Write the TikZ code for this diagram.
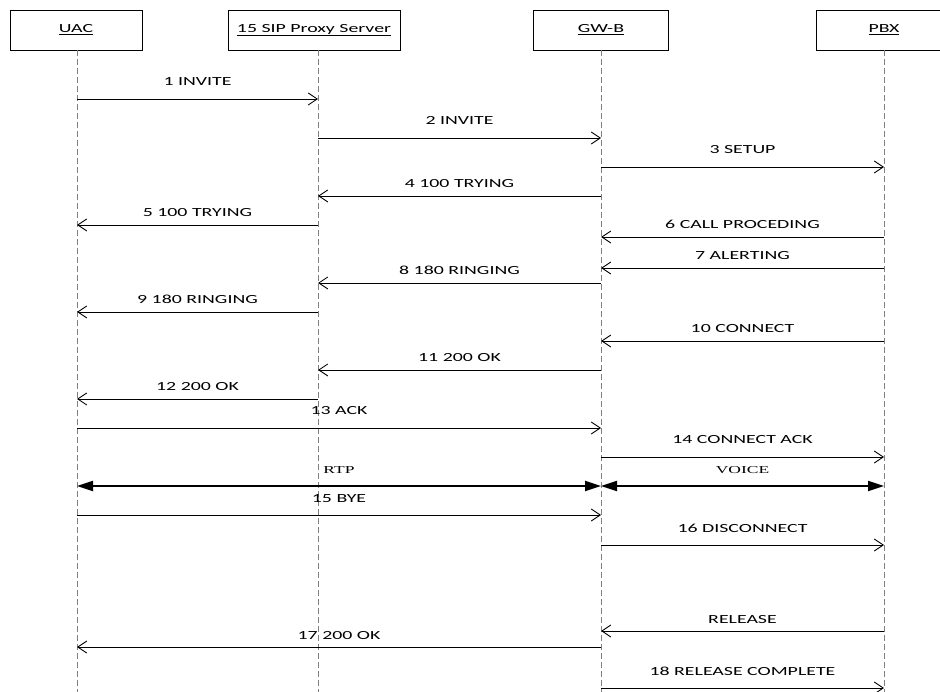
\documentclass[tikz,border=0pt]{standalone}
\usepackage{fontspec}
\setmainfont[FakeStretch=1.6]{Carlito}
\newfontfamily\mediafont[FakeStretch=1.65]{Liberation Serif}
\usetikzlibrary{arrows.meta}

\tikzset{
  party/.style={draw, line width=0.8pt, minimum height=40pt, inner sep=0pt,
    font=\fontsize{12.4}{14}\selectfont},
  life/.style={draw=gray, dash pattern=on 6pt off 3pt, line width=0.8pt},
  msg/.style={draw, line width=0.9pt, -{Straight Barb[length=9pt,width=12pt]}},
  rlbl/.style={anchor=base, yshift=13pt, inner sep=0pt, font=\fontsize{12.4}{14}\selectfont},
  llbl/.style={anchor=base, yshift=8pt, inner sep=0pt, font=\fontsize{12.4}{14}\selectfont},
  media/.style={draw, line width=2.2pt,
    {Triangle[length=16pt,width=10pt]}-{Triangle[length=16pt,width=10pt]}},
  mlbl/.style={anchor=base, yshift=12pt, inner sep=0pt,
    font=\mediafont\fontsize{10.6}{12}\selectfont}
}

\begin{document}
\begin{tikzpicture}[x=1pt,y=-1pt]
  \useasboundingbox (0,0) rectangle (940,692);

  % parties
  \node[party, minimum width=132pt] (uac)   at (76,30)  {\underline{UAC}};
  \node[party, minimum width=172pt] (proxy) at (314,30) {\underline{15 SIP Proxy Server}};
  \node[party, minimum width=135pt] (gw)    at (601,30) {\underline{GW-B}};
  \node[party, minimum width=136pt] (pbx)   at (884,30) {\underline{PBX}};

  % lifelines
  \coordinate (uacL)   at ([xshift=1pt]uac.south);
  \coordinate (proxyL) at ([xshift=4pt]proxy.south);
  \coordinate (gwL)    at (gw.south);
  \coordinate (pbxL)   at (pbx.south);
  \coordinate (uacE)   at (uacL |- 0,692);
  \coordinate (proxyE) at (proxyL |- 0,692);
  \coordinate (gwE)    at (gwL |- 0,692);
  \coordinate (pbxE)   at (pbxL |- 0,692);
  \path[life]
    (uacL) edge (uacE)
    (proxyL) edge (proxyE)
    (gwL) edge (gwE)
    (pbxL) edge (pbxE);

  % call setup
  \draw[msg] (uacL |- 0,99)   -- node[rlbl] {1 INVITE}          (proxyL |- 0,99);
  \draw[msg] (proxyL |- 0,138) -- node[rlbl] {2 INVITE}         (gwL |- 0,138);
  \draw[msg] (gwL |- 0,167)   -- node[rlbl] {3 SETUP}           (pbxL |- 0,167);
  \draw[msg] (gwL |- 0,196)   -- node[llbl] {4 100 TRYING}      (proxyL |- 0,196);
  \draw[msg] (proxyL |- 0,225) -- node[llbl] {5 100 TRYING}     (uacL |- 0,225);
  \draw[msg] (pbxL |- 0,237)  -- node[llbl] {6 CALL PROCEDING}  (gwL |- 0,237);
  \draw[msg] (pbxL |- 0,268)  -- node[llbl] {7 ALERTING}        (gwL |- 0,268);
  \draw[msg] (gwL |- 0,283)   -- node[llbl] {8 180 RINGING}     (proxyL |- 0,283);
  \draw[msg] (proxyL |- 0,312) -- node[llbl] {9 180 RINGING}    (uacL |- 0,312);
  \draw[msg] (pbxL |- 0,341)  -- node[llbl] {10 CONNECT}        (gwL |- 0,341);
  \draw[msg] (gwL |- 0,370)   -- node[llbl] {11 200 OK}         (proxyL |- 0,370);
  \draw[msg] (proxyL |- 0,399) -- node[llbl] {12 200 OK}        (uacL |- 0,399);
  \draw[msg] (uacL |- 0,428)  -- node[rlbl] {13 ACK}            (gwL |- 0,428);
  \draw[msg] (gwL |- 0,457)   -- node[rlbl] {14 CONNECT ACK}    (pbxL |- 0,457);

  % media
  \draw[media] (uacL |- 0,486) -- node[mlbl] {RTP}   (gwL |- 0,486);
  \draw[media] (gwL |- 0,486)  -- node[mlbl] {VOICE} (pbxL |- 0,486);

  % release
  \draw[msg] (uacL |- 0,515)  -- node[rlbl] {15 BYE}            (gwL |- 0,515);
  \draw[msg] (gwL |- 0,545)   -- node[rlbl] {16 DISCONNECT}     (pbxL |- 0,545);
  \draw[msg] (pbxL |- 0,631)  -- node[llbl] {RELEASE}           (gwL |- 0,631);
  \draw[msg] (gwL |- 0,647)   -- node[llbl] {17 200 OK}         (uacL |- 0,647);
  \draw[msg] (gwL |- 0,688)   -- node[rlbl] {18 RELEASE COMPLETE} (pbxL |- 0,688);
\end{tikzpicture}
\end{document}
